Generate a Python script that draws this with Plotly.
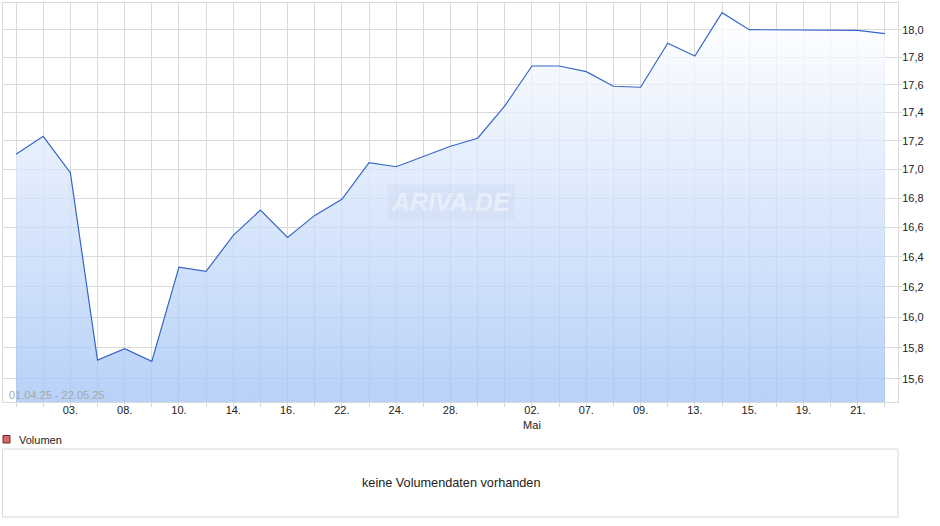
import math
import plotly.graph_objects as go

# Kursdaten 01.04.25 - 22.05.25 (ein Punkt je Handelstag im Chart)
dates = ["01.04", "02.04", "03.04", "07.04", "08.04", "09.04", "10.04", "11.04",
         "14.04", "15.04", "16.04", "17.04", "22.04", "23.04", "24.04", "25.04",
         "28.04", "29.04", "30.04", "02.05", "06.05", "07.05", "08.05", "09.05",
         "12.05", "13.05", "14.05", "15.05", "16.05", "19.05", "20.05", "21.05",
         "22.05"]
prices = [17.105, 17.232, 16.977, 15.721, 15.795, 15.713, 16.332, 16.303,
          16.546, 16.718, 16.532, 16.682, 16.792, 17.046, 17.018, 17.088,
          17.162, 17.218, 17.448, 17.736, 17.736, 17.695, 17.589, 17.582,
          17.902, 17.809, 18.128, 18.002, 18.001, 17.995, 17.995, 17.997,
          17.973]
# beschriftete Ticks (Index -> Text), alle anderen ohne Text
tick_labels = {2: "03.", 4: "08.", 6: "10.", 8: "14.", 10: "16.", 12: "22.",
               14: "24.", 16: "28.", 19: "02.<br>Mai", 21: "07.", 23: "09.",
               25: "13.", 27: "15.", 29: "19.", 31: "21."}
y_ticks = [15.6, 15.8, 16.0, 16.2, 16.4, 16.6, 16.8, 17.0, 17.2, 17.4, 17.6, 17.8, 18.0]

W, H = 940, 526
idx = list(range(len(prices)))

def px_x(p):
    return p / W

def px_y(p):
    return 1 - p / H

fig = go.Figure()
fig.add_trace(go.Scatter(
    x=idx, y=prices, mode="lines",
    line=dict(color="#3566c6", width=1.2),
    fill="tozeroy",
    fillgradient=dict(type="vertical", start=15.45, stop=18.13,
                      colorscale=[[0, "rgba(160,194,246,0.75)"],
                                  [1, "rgba(255,255,255,0.75)"]]),
    hoverinfo="skip",
))

grid = "#dadada"
fig.update_xaxes(
    domain=[px_x(3), px_x(898)],
    range=[-0.48, len(prices) - 1 + 0.48],
    tickvals=idx,
    ticktext=[tick_labels.get(i, "") for i in idx],
    showgrid=True, gridcolor=grid, gridwidth=1,
    ticks="outside", ticklen=4, tickcolor=grid,
    ticklabelstandoff=-6,
    showline=True, linecolor=grid, mirror=True,
    zeroline=False,
    tickfont=dict(family="Liberation Sans, Arial", size=11, color="#222"),
)
# logarithmische Kursachse
fig.update_yaxes(
    type="log",
    domain=[px_y(402), px_y(3)],
    range=[math.log10(15.453), math.log10(18.20)],
    side="right",
    tickvals=y_ticks, tickformat=".1f",
    showgrid=True, gridcolor=grid, gridwidth=1,
    ticks="outside", ticklen=3, tickcolor=grid,
    ticklabelstandoff=-2,
    showline=True, linecolor=grid, mirror=True,
    zeroline=False,
    tickfont=dict(family="Liberation Sans, Arial", size=11, color="#222"),
)

shapes = [
    # Volumen-Box
    dict(type="rect", xref="paper", yref="paper",
         x0=px_x(2.5), x1=px_x(898), y0=px_y(517), y1=px_y(449),
         line=dict(color="#d8d8d8", width=1), fillcolor="white"),
    # Legendenquadrat
    dict(type="rect", xref="paper", yref="paper",
         x0=px_x(3), x1=px_x(10), y0=px_y(443), y1=px_y(435.5),
         line=dict(color="#6b2a2a", width=1), fillcolor="#d96a6a"),
]

annotations = [
    dict(text="01.04.25 - 22.05.25", xref="paper", yref="paper",
         x=px_x(7), y=px_y(395), xanchor="left", yanchor="middle",
         showarrow=False, font=dict(family="Liberation Sans, Arial", size=11, color="#a8a8a8")),
    dict(text="ARIVA.DE", xref="paper", yref="paper",
         x=px_x(451), y=px_y(202), xanchor="center", yanchor="middle",
         showarrow=False, bgcolor="rgba(190,205,230,0.22)", borderpad=3,
         font=dict(family="Liberation Sans, Arial", size=25, color="rgba(255,255,255,0.45)",
                   style="italic", weight="bold")),
    dict(text="Volumen", xref="paper", yref="paper",
         x=px_x(17), y=px_y(440), xanchor="left", yanchor="middle",
         showarrow=False, font=dict(family="Liberation Sans, Arial", size=11, color="#222")),
    dict(text="keine Volumendaten vorhanden", xref="paper", yref="paper",
         x=px_x(451), y=px_y(483), xanchor="center", yanchor="middle",
         showarrow=False, font=dict(family="Liberation Sans, Arial", size=12.7, color="#222")),
]

fig.update_layout(
    width=W, height=H,
    margin=dict(l=0, r=0, t=0, b=0),
    paper_bgcolor="white", plot_bgcolor="white",
    separators=",.",
    showlegend=False,
    shapes=shapes,
    annotations=annotations,
    hovermode=False,
)

# Seitenrand des Browsers entfernen, damit der Chart bei (0,0) beginnt
fig.write_html("out.html", config={"displayModeBar": False},
               post_script="document.body.style.margin='0px';document.body.style.overflow='hidden';")
